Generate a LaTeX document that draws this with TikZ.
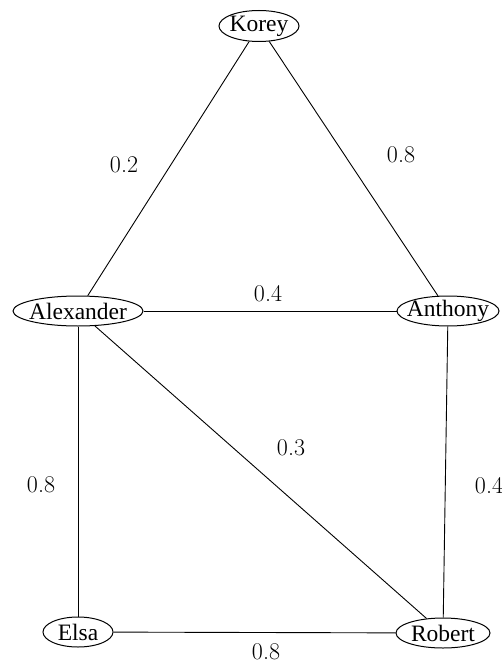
\documentclass[tikz,border=0pt]{standalone}
\usepackage{fontspec}
\setmainfont{Liberation Serif}
\newfontfamily\lmfont{Latin Modern Roman}
\usetikzlibrary{shapes.geometric}
\begin{document}
\begin{tikzpicture}[x=1pt,y=-1pt,
  person/.style={ellipse,draw,line width=1pt,inner sep=0pt,minimum height=30pt,
    label={[font=\fontsize{23.5}{27}\selectfont,inner sep=0pt]center:#1}},
  edge/.style={line width=0.9pt},
  wlabel/.style={font=\lmfont\fontsize{24}{28}\selectfont,inner sep=0pt}]
\useasboundingbox (0,0) rectangle (501,663);
\node[person=Korey,minimum width=80pt,minimum height=31pt] (korey) at (259,26) {};
\node[person=Alexander,minimum width=130pt] (alex) at (78,311) {};
\node[person=Anthony,minimum width=102pt] (anth) at (448,311) {};
\node[person=Elsa,minimum width=70pt] (elsa) at (78,632) {};
\node[person=Robert,minimum width=94pt] (rob) at (443,633) {};
\draw[edge] (korey) -- (alex);
\draw[edge] (korey) -- (anth);
\draw[edge] (alex) -- (anth);
\draw[edge] (alex) -- (elsa);
\draw[edge] (alex) -- (rob);
\draw[edge] (anth) -- (rob);
\draw[edge] (elsa) -- (rob);
\node[wlabel] (l1) at (124,165) {0.2};
\node[wlabel] (l2) at (401,155) {0.8};
\node[wlabel] (l3) at (268,294) {0.4};
\node[wlabel] (l4) at (291,448) {0.3};
\node[wlabel] (l5) at (41,485) {0.8};
\node[wlabel] (l6) at (489,486) {0.4};
\node[wlabel] (l7) at (266,652) {0.8};
\end{tikzpicture}
\end{document}
